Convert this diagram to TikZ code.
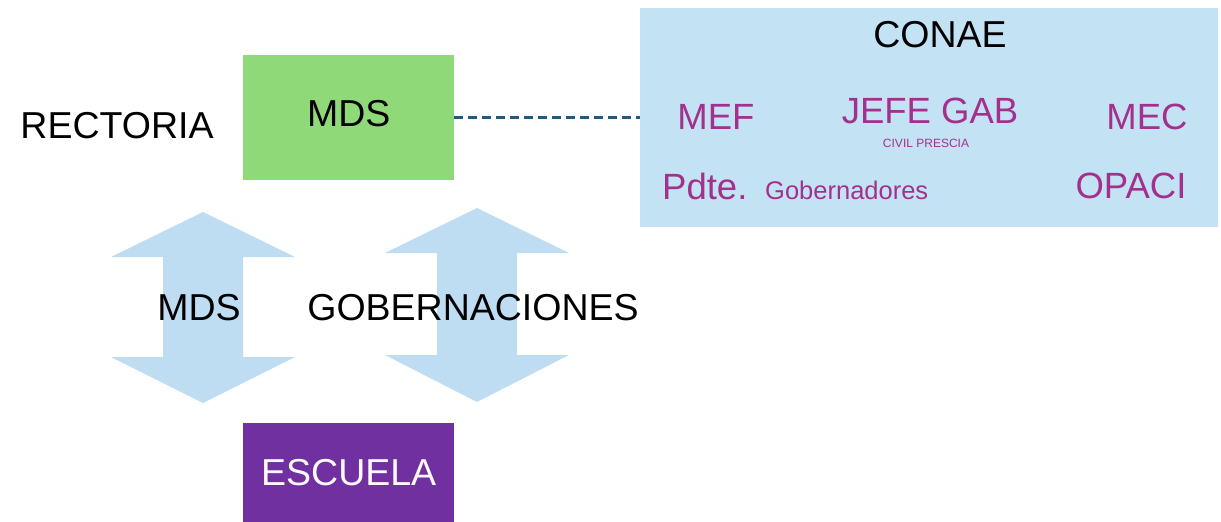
\documentclass[tikz,border=0pt]{standalone}
\usepackage{fontspec}
\setmainfont{Liberation Sans}
\definecolor{mdsgreen}{RGB}{144,217,120}
\definecolor{lightblue}{RGB}{195,227,244}
\definecolor{arrowblue}{RGB}{190,221,242}
\definecolor{dashblue}{RGB}{30,90,130}
\definecolor{escpurple}{RGB}{112,48,160}
\definecolor{txtmag}{RGB}{163,48,140}
\begin{document}
\begin{tikzpicture}[x=1pt,y=-1pt,
  box/.style={draw=none,inner sep=0pt,anchor=north west},
  big/.style={font=\fontsize{37.5}{40}\selectfont},
  mag/.style={font=\fontsize{36.5}{40}\selectfont,text=txtmag},
  dbl/.style={fill=arrowblue,draw=none}]
\useasboundingbox (0,0) rectangle (1221,522);
% boxes
\node[box,fill=mdsgreen,minimum width=211pt,minimum height=125pt] (mds) at (243,55) {};
\node[big] (mdst) at ([yshift=4pt]mds.center) {MDS};
\node[box,fill=lightblue,minimum width=578pt,minimum height=219pt] (conae) at (640,8) {};
\node[box,fill=escpurple,minimum width=211pt,minimum height=99pt] (esc) at (243,423) {};
\node[big,text=white!92!pink] (esct) at (esc.center) {ESCUELA};
% dashed connector
\draw[dashblue,line width=3pt,dash pattern=on 9pt off 5pt] (mds.east) -- (conae.west |- mds.east);
% double arrows
\fill[dbl] (203,212) -- (295,257) -- (243,257) -- (243,357) -- (295,357) -- (203,403)
  -- (111,357) -- (163,357) -- (163,257) -- (111,257) -- cycle;
\fill[dbl] (477,208) -- (569,253) -- (517,253) -- (517,355) -- (569,355) -- (477,402)
  -- (385,355) -- (437,355) -- (437,253) -- (385,253) -- cycle;
% labels
\node[big] (rect) at (117,126) {RECTORIA};
\node[big] (lmds) at (199,308) {MDS};
\node[big] (gob) at (473,308) {GOBERNACIONES};
\node[big] (conaet) at (940,35) {CONAE};
\node[mag] (mef) at (716,117) {MEF};
\node[mag] (jefe) at (930,111) {JEFE GAB};
\node[text=txtmag,font=\fontsize{12}{13}\selectfont] (civil) at (926,143) {CIVIL PRESCIA};
\node[mag] (mec) at (1147,117) {MEC};
\node[mag,anchor=base west,inner sep=0pt] (pdte) at (662,199) {Pdte.};
\node[text=txtmag,font=\fontsize{25.5}{28}\selectfont,anchor=base west,inner sep=0pt] (gobd) at (765,199) {Gobernadores};
\node[mag] (opaci) at (1131,186) {OPACI};
\end{tikzpicture}
\end{document}
